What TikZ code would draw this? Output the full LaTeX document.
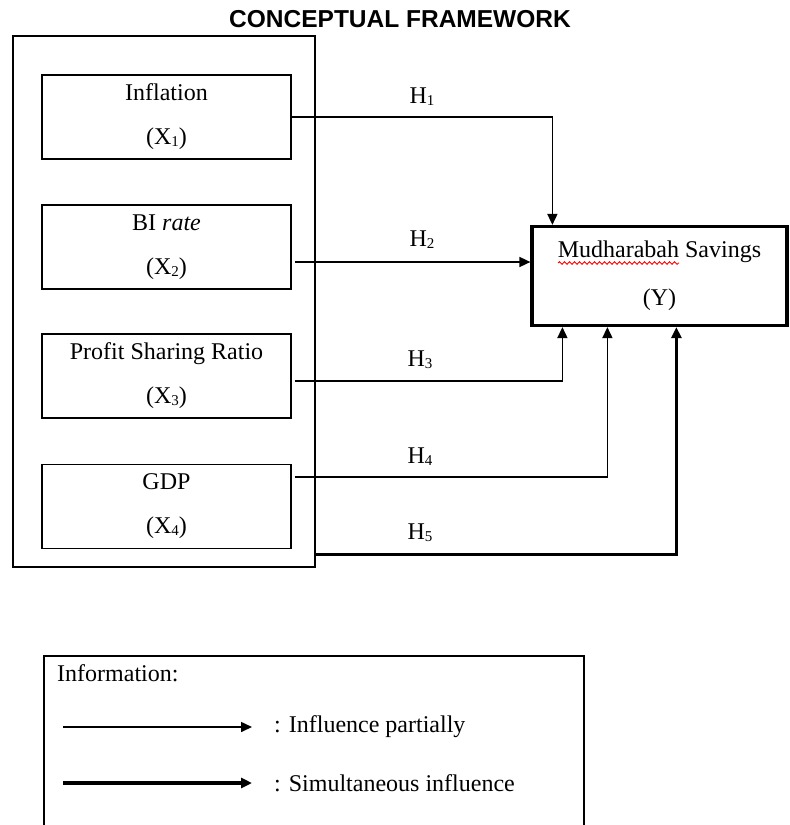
\documentclass[tikz,border=0pt]{standalone}
\usepackage{fontspec}
\setmainfont{Liberation Serif}
\newfontfamily\headfont{Liberation Sans}
\usetikzlibrary{arrows.meta,decorations.pathmorphing}
\newcommand{\idx}[1]{\raisebox{-2pt}{\fontsize{15}{15}\selectfont#1}}
\begin{document}
\begin{tikzpicture}[x=1pt,y=-1pt,inner sep=0pt,
    font=\fontsize{24}{44}\selectfont,
    var/.style={draw,line width=1.6pt,minimum width=249pt,minimum height=84pt,align=center},
    arr/.style={-{Triangle[length=11pt,width=10pt]},line width=1.6pt},
    thickarr/.style={arr,line width=3.2pt}]
    \useasboundingbox (0,0) rectangle (790,825);
    \node[font=\headfont\bfseries\fontsize{24.5}{24.5}\selectfont] (title) at (400,19) {CONCEPTUAL FRAMEWORK};
    \node[draw,line width=2.8pt,minimum width=302pt,minimum height=531pt] (vars) at (164,301.5) {};
    \node[var] (inf) at (166.5,117) {Inflation\\(X\idx{1})};
    \node[var] (rate) at (166.5,247) {BI \textit{rate}\\(X\idx{2})};
    \node[var] (prof) at (166.5,376) {Profit Sharing Ratio\\(X\idx{3})};
    \node[var] (gdp) at (166.5,506.5) {GDP\\(X\idx{4})};
    \node[draw,line width=3.2pt,minimum width=255pt,minimum height=99pt,align=center,
        font=\fontsize{24}{48}\selectfont] (sav) at (659.5,276) {Mudharabah Savings\\(Y)};
    \draw[red,line width=0.9pt,decorate,decoration={snake,amplitude=1.3pt,segment length=5pt}] (558,263) -- (679,263);
    \draw[arr] (inf.east) -| ([xshift=22pt]sav.north west);
    \draw[arr] ([xshift=3pt,yshift=-15pt]rate.east) coordinate (r2) -- (r2 -| sav.west);
    \draw[arr] ([xshift=3pt,yshift=-5pt]prof.east) -| ([xshift=32pt]sav.south west);
    \draw[arr] ([xshift=3pt,yshift=29.5pt]gdp.east) -| ([xshift=77pt]sav.south west);
    \draw[thickarr] ([yshift=14pt]vars.south east) -| ([xshift=146pt]sav.south west);
    \node (h1) at (422,97) {H\idx{1}};
    \node (h2) at (422,240) {H\idx{2}};
    \node (h3) at (420,360) {H\idx{3}};
    \node (h4) at (420,457) {H\idx{4}};
    \node (h5) at (420,533) {H\idx{5}};
    \draw[line width=1.6pt] (44,826) -- (44,656) -- (584,656) -- (584,826);
    \node[anchor=west] (info) at (57,673) {Information:};
    \node[anchor=west] (part) at (274,727) {: Influence partially};
    \node[anchor=west] (simul) at (274,783) {: Simultaneous influence};
    \draw[arr] ([xshift=-211pt]part.west) -- ([xshift=-22pt]part.west);
    \draw[thickarr] ([xshift=-211pt]simul.west) -- ([xshift=-22pt]simul.west);
\end{tikzpicture}
\end{document}
